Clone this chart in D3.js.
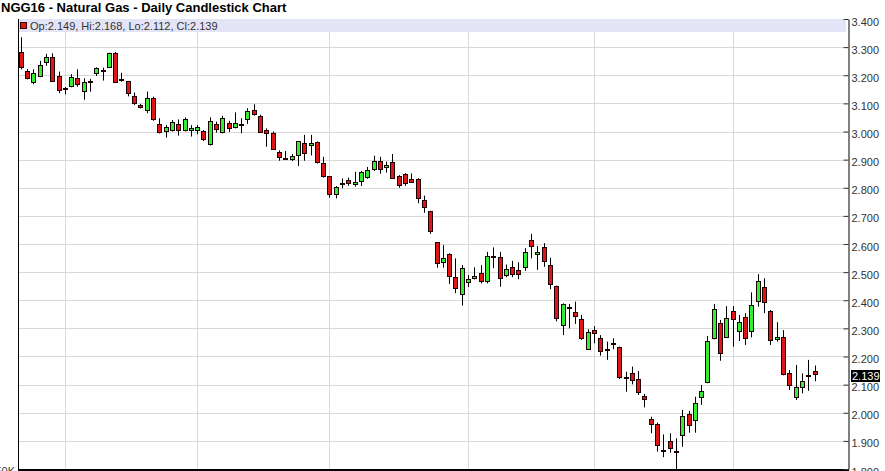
<!DOCTYPE html>
<html><head><meta charset="utf-8">
<script src="https://cdn.jsdelivr.net/npm/d3@7/dist/d3.min.js"></script>
<style>
html,body{margin:0;padding:0;background:#fff;}
svg{display:block;font-family:"Liberation Sans",Arial,sans-serif;}
</style></head>
<body>
<svg id="chart" width="885" height="471"></svg>
<script>
const title = "NGG16 - Natural Gas - Daily Candlestick Chart";
const opens = [3.282,3.216,3.177,3.198,3.246,3.264,3.196,3.155,3.162,3.191,3.144,3.181,3.207,3.220,3.228,3.278,3.188,3.178,3.125,3.093,
3.076,3.120,3.026,3.002,3.004,3.028,3.005,3.006,3.005,3.003,2.956,3.025,2.999,3.031,3.015,3.025,3.044,3.076,3.055,3.005,
2.996,2.927,2.907,2.901,2.915,2.958,2.951,2.962,2.887,2.842,2.777,2.816,2.828,2.812,2.825,2.837,2.868,2.895,2.874,2.890,
2.842,2.848,2.832,2.832,2.755,2.716,2.606,2.535,2.563,2.484,2.421,2.464,2.478,2.496,2.468,2.557,2.555,2.490,2.517,2.508,
2.519,2.614,2.563,2.591,2.525,2.451,2.312,2.376,2.357,2.334,2.227,2.293,2.267,2.227,2.249,2.235,2.126,2.142,2.120,2.060,
1.979,1.959,1.869,1.901,1.865,1.921,1.994,1.973,2.055,2.110,2.265,2.320,2.271,2.363,2.291,2.342,2.291,2.398,2.446,2.362,
2.261,2.270,2.142,2.055,2.090,2.134,2.149];
const highs = [3.335,3.222,3.221,3.251,3.276,3.278,3.213,3.158,3.204,3.221,3.189,3.187,3.228,3.227,3.280,3.283,3.209,3.180,3.139,3.098,
3.142,3.124,3.047,3.023,3.041,3.043,3.050,3.023,3.023,3.005,3.050,3.035,3.056,3.038,3.068,3.047,3.083,3.097,3.060,3.011,
3.000,2.933,2.931,2.920,2.966,2.988,2.988,2.965,2.910,2.842,2.806,2.833,2.836,2.857,2.860,2.874,2.914,2.910,2.893,2.920,
2.845,2.852,2.851,2.834,2.772,2.718,2.606,2.596,2.567,2.549,2.525,2.490,2.517,2.525,2.572,2.588,2.572,2.527,2.540,2.535,
2.585,2.636,2.593,2.603,2.551,2.452,2.389,2.387,2.395,2.348,2.297,2.308,2.276,2.253,2.265,2.235,2.146,2.164,2.148,2.067,
1.986,1.965,1.923,1.927,1.909,2.010,2.007,2.057,2.099,2.273,2.387,2.330,2.379,2.379,2.348,2.354,2.428,2.493,2.478,2.365,
2.322,2.294,2.152,2.170,2.140,2.188,2.168];
const lows = [3.221,3.185,3.168,3.193,3.234,3.177,3.136,3.132,3.157,3.159,3.113,3.142,3.197,3.181,3.226,3.174,3.177,3.125,3.094,3.082,
3.065,3.038,2.993,2.978,3.000,2.985,3.000,2.982,2.990,2.966,2.950,2.996,2.993,2.998,3.011,2.994,3.027,3.056,2.995,2.946,
2.935,2.896,2.899,2.895,2.877,2.896,2.915,2.886,2.836,2.765,2.762,2.798,2.807,2.804,2.806,2.832,2.860,2.850,2.854,2.834,
2.800,2.807,2.818,2.745,2.711,2.636,2.516,2.516,2.458,2.425,2.381,2.447,2.474,2.460,2.460,2.514,2.448,2.482,2.482,2.475,
2.505,2.549,2.508,2.519,2.439,2.325,2.276,2.300,2.316,2.259,2.227,2.247,2.203,2.188,2.226,2.120,2.075,2.101,2.063,2.019,
1.927,1.862,1.842,1.858,1.795,1.879,1.929,1.929,2.028,2.105,2.261,2.185,2.268,2.235,2.255,2.241,2.268,2.377,2.354,2.241,
2.253,2.133,2.081,2.045,2.069,2.078,2.112];
const closes = [3.228,3.189,3.207,3.236,3.266,3.181,3.146,3.155,3.195,3.169,3.177,3.181,3.225,3.220,3.278,3.177,3.188,3.136,3.100,3.087,
3.120,3.043,2.999,3.015,3.035,3.004,3.044,3.013,3.015,2.973,3.038,3.008,3.047,3.011,3.029,3.025,3.074,3.061,2.999,2.994,
2.938,2.908,2.907,2.913,2.966,2.923,2.958,2.890,2.842,2.777,2.804,2.816,2.816,2.822,2.857,2.863,2.895,2.868,2.881,2.836,
2.810,2.816,2.821,2.762,2.730,2.645,2.531,2.551,2.486,2.442,2.514,2.475,2.486,2.468,2.558,2.557,2.480,2.512,2.492,2.493,
2.570,2.594,2.571,2.540,2.457,2.336,2.387,2.376,2.345,2.265,2.288,2.282,2.220,2.227,2.249,2.128,2.126,2.116,2.075,2.048,
1.960,1.884,1.869,1.874,1.865,1.988,1.956,2.033,2.077,2.255,2.368,2.211,2.336,2.332,2.324,2.265,2.382,2.470,2.395,2.259,
2.268,2.137,2.098,2.090,2.114,2.134,2.139];
// candle index where each new month starts (vertical grid lines)
const monthStartIdx = [7, 28, 49, 71, 91, 113];
const yTicks = [3.4,3.3,3.2,3.1,3.0,2.9,2.8,2.7,2.6,2.5,2.4,2.3,2.2,2.1,2.0,1.9,1.8];
const volumeLabel = "50K";

const svg = d3.select("#chart");
const L = 18, R = 848, T = 19, B = 469;
const n = closes.length;
const x = d3.scaleLinear().domain([0, n - 1]).range([20.7, 814.5]);
const y = d3.scaleLinear().domain([1.8, 3.4]).range([B, T]);
const fmt = d3.format(".3f");
const crisp = v => Math.round(v) + 0.5;

// Title
svg.append("text").attr("x", 1).attr("y", 12)
  .attr("font-size", 13).attr("font-weight", "bold").attr("fill", "#000").text(title);

// horizontal grid
svg.append("g").selectAll("line").data(yTicks.slice(1)).join("line")
  .attr("x1", L).attr("x2", R)
  .attr("y1", d => crisp(y(d))).attr("y2", d => crisp(y(d)))
  .attr("stroke", "#d9d9d9").attr("stroke-width", 1);
// vertical grid
svg.append("g").selectAll("line").data(monthStartIdx).join("line")
  .attr("x1", d => crisp(x(d))).attr("x2", d => crisp(x(d)))
  .attr("y1", 32).attr("y2", B)
  .attr("stroke", "#d9d9d9").attr("stroke-width", 1);

// legend band
svg.append("rect").attr("x", L).attr("y", T).attr("width", 828).attr("height", 13).attr("fill", "#e4e4f7");
const last = n - 1;
svg.append("rect").attr("x", 20.5).attr("y", 22.5).attr("width", 6).attr("height", 6)
  .attr("fill", closes[last] >= opens[last] ? "#33ee33" : "#e01515").attr("stroke", "#300").attr("stroke-width", 1);
svg.append("text").attr("x", 30).attr("y", 29.5).attr("font-size", 11).attr("fill", "#333")
  .text(`Op:${fmt(opens[last])}, Hi:${fmt(highs[last])}, Lo:${fmt(lows[last])}, Cl:${fmt(closes[last])}`);

// candles
const idx = d3.range(n);
const g = svg.append("g");
g.selectAll("line.wick").data(idx).join("line").attr("class", "wick")
  .attr("x1", i => crisp(x(i))).attr("x2", i => crisp(x(i)))
  .attr("y1", i => y(highs[i])).attr("y2", i => Math.min(B, y(lows[i])))
  .attr("stroke", "#000").attr("stroke-width", 1);
g.selectAll("rect.body").data(idx).join("rect").attr("class", "body")
  .attr("x", i => Math.round(x(i)) - 1.5)
  .attr("width", 4)
  .attr("y", i => Math.round(y(Math.max(opens[i], closes[i]))) + 0.5)
  .attr("height", i => Math.max(1, Math.round(y(Math.min(opens[i], closes[i]))) - Math.round(y(Math.max(opens[i], closes[i])))))
  .attr("fill", i => closes[i] > opens[i] ? "#33ee33" : (closes[i] < opens[i] ? "#e01515" : "#000"))
  .attr("stroke", "#1a0000").attr("stroke-width", 1);

// axes frame
svg.append("line").attr("x1", L + 0.5).attr("x2", L + 0.5).attr("y1", T).attr("y2", 471).attr("stroke", "#000");
svg.append("rect").attr("x", L).attr("y", B).attr("width", R - L + 1).attr("height", 2).attr("fill", "#000");

// right axis
const axis = d3.axisRight(y).tickValues(yTicks).tickFormat(fmt)
  .tickSizeInner(-5).tickSizeOuter(0).tickPadding(3);
const ax = svg.append("g").attr("transform", `translate(${R + 0.5},0)`).call(axis);
ax.select(".domain").attr("stroke", "#000");
ax.selectAll(".tick line").attr("stroke", "#333");
ax.selectAll(".tick text").attr("font-size", 11).attr("fill", "#333")
  .attr("font-family", "Liberation Sans, Arial, sans-serif").attr("dy", "0.55em");

// last price marker
const lp = closes[last];
svg.append("rect").attr("x", 851).attr("y", Math.round(y(lp)) - 4).attr("width", 29).attr("height", 12).attr("fill", "#000");
svg.append("text").attr("x", 852).attr("y", Math.round(y(lp)) + 6).attr("font-size", 11).attr("fill", "#fff").text(fmt(lp));

// volume pane label (cut off, as in the source)
svg.append("text").attr("x", 15).attr("y", 475).attr("text-anchor", "end").attr("font-size", 11).attr("fill", "#333").text(volumeLabel);
</script>
</body></html>
